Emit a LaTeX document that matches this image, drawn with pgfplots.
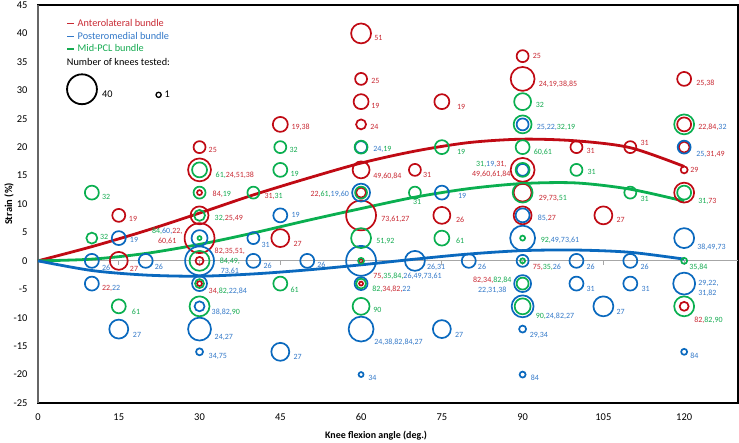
\documentclass[border=0pt]{standalone}
\usepackage{pgfplots}
\pgfplotsset{compat=1.18}
\usepackage{pgfplotstable}
\usepackage{fontspec}
\setmainfont{Carlito}

\definecolor{cR}{RGB}{192,10,20}
\definecolor{cB}{RGB}{10,105,190}
\definecolor{cG}{RGB}{10,175,80}
\definecolor{tR}{RGB}{200,40,50}
\definecolor{tB}{RGB}{50,120,200}
\definecolor{tG}{RGB}{20,170,80}

\newcommand\RR[1]{\textcolor{tR}{#1}}
\newcommand\BB[1]{\textcolor{tB}{#1}}
\newcommand\GG[1]{\textcolor{tG}{#1}}
\tikzset{lab/.style={anchor=west, font=\fontsize{8}{10}\selectfont, inner sep=0pt, align=left}}
\newcommand\lab[5][]{\node[lab,xshift=#3bp,yshift=#4bp,#1] at (axis cs:#2) {#5};}
\newcommand\labL[5][]{\node[lab,anchor=east,xshift=#3bp,yshift=#4bp,#1] at (axis cs:#2) {#5};}

\pgfplotstableread{
x y r
15 8 6.5
15 0 9
30 20 6
30 16 11.5
30 12 2.5
30 8 9
30 4 15
30 0 4
30 -4 2.5
45 24 7.5
45 4 9
60 40 10
60 32 6
60 28 7.5
60 24 5
60 16 8.5
60 12 5
60 8 15
60 0 2
60 -4 2
70 16 6
75 28 7.5
75 8 8.5
90 36 6
90 32 12
90 16 12
90 12 9
90 8 9
100 20 6
105 8 9
110 20 6
120 32 7
120 24 7
120 20 5.5
120 16 3.5
120 12 10
120 -8 4.5
}\tRed

\pgfplotstableread{
x y r
10 0 7
10 -4 7
15 4 7
15 -12 9.5
20 0 7
30 4 8
30 0 14.5
30 -4 7.5
30 -8 5
30 -12 11.5
30 -16 3.5
40 4 6
40 0 7
45 8 7
45 -16 9
50 0 7
60 20 6
60 12 9
60 0 15
60 -4 6.5
60 -12 12.5
60 -20 2.5
70 0 10
75 12 7
75 -12 9
80 0 7
90 24 6
90 16 6
90 8 7
90 4 12.5
90 0 6
90 -4 8.5
90 -8 11
90 -12 3.5
90 -20 3
100 0 7
100 -4 7
105 -8 10
110 0 7
110 -4 7
120 20 6.5
120 4 10
120 -4 11
120 -16 3
}\tBlue

\pgfplotstableread{
x y r
10 12 7
10 4 5.5
15 -8 7
30 16 7.5
30 12 6
30 8 5.5
30 4 2
30 0 10
30 -4 4.5
30 -8 10
40 12 6
45 20 6
45 16 7
45 -4 7
60 20 6.5
60 12 6
60 4 10
60 0 3
60 -4 5
60 -8 8.5
70 12 6
75 20 7
75 4 7.5
90 28 8.5
90 24 9
90 20 7
90 16 7
90 12 10
90 4 2.5
90 0 2.5
90 -4 6
90 -8 8
100 16 6
110 12 6
120 24 10
120 12 7
120 0 3
120 -8 10
}\tGreen

\pgfplotsset{bub/.style={scatter, only marks, mark=o, line width=1.7bp,
  scatter/use mapped color={draw=#1,fill=none},
  visualization depends on={\thisrow{r}\as\rad},
  scatter/@pre marker code/.append style={/tikz/mark size=\rad}}}

\begin{document}
\begin{tikzpicture}
\begin{axis}[
  scale only axis, width=700bp, height=398bp,
  xmin=0, xmax=130, ymin=-25, ymax=45,
  xtick={0,15,...,120}, ytick={-25,-20,...,45},
  xticklabels={0,15,30,45,60,75,90,105,120},
  yticklabels={-25,-20,-15,-10,-5,0,5,10,15,20,25,30,35,40,45},
  tick style={draw=none},
  ticklabel style={font=\fontsize{10.5}{12}\selectfont},
  xticklabel style={yshift=-7bp},
  yticklabel style={xshift=-7bp},
  axis line style={black, line width=1.2bp},
  clip=false,
  xlabel={\textbf{Knee flexion angle (deg.)}},
  ylabel={\textbf{Strain (\%)}},
  every axis x label/.style={at={(axis description cs:0.483,-0.083)}, anchor=center, font=\fontsize{10}{12}\selectfont},
  every axis y label/.style={at={(axis description cs:-0.0414,0.5)}, rotate=90, anchor=center, font=\fontsize{10.5}{12}\selectfont},
]
\coordinate (SW) at (rel axis cs:0,0);
\coordinate (NE) at (rel axis cs:1,1);
\draw[gray!70, line width=0.8bp] (axis cs:0,0) -- (axis cs:130,0);
\pgfplotsinvokeforeach{15,30,...,120}{\draw[gray!70, line width=0.8bp] (axis cs:#1,0) -- ([yshift=-4bp]axis cs:#1,0);}
\draw[gray!80!black, line width=1.4bp] (rel axis cs:0,0) -- (rel axis cs:0,1);

\addplot[bub=cR] table[x=x,y=y] {\tRed};
\addplot[bub=cB] table[x=x,y=y] {\tBlue};
\addplot[bub=cG] table[x=x,y=y] {\tGreen};

\addplot[smooth, line width=2.8bp, cR] coordinates {(0,0) (10,2.5) (20,5.3) (30,8.4) (40,11.6) (50,14.5) (60,17.2) (70,19.3) (80,20.8) (90,21.4) (100,21.1) (110,19.9) (120,16.6)};
\addplot[smooth, line width=2.8bp, cG] coordinates {(0,0) (10,0.3) (20,1.3) (30,2.9) (40,4.9) (50,7.1) (60,9.2) (70,11.2) (80,12.7) (90,13.6) (100,13.7) (110,12.6) (120,10.5)};
\addplot[smooth, line width=2.8bp, cB] coordinates {(0,0) (10,-1.7) (20,-2.5) (30,-2.7) (40,-2.3) (50,-1.6) (60,-0.7) (70,0.3) (80,1.2) (90,1.8) (100,1.9) (110,1.5) (120,0.3)};

% legend
\node[anchor=west, inner sep=0pt, font=\fontsize{10.3}{12}\selectfont, text=tR] at (axis cs:5.39,41.84) {\rule[0.22em]{7bp}{1.2bp}\hspace{3.5bp}Anterolateral bundle};
\node[anchor=west, inner sep=0pt, font=\fontsize{10.3}{12}\selectfont, text=tB] at (axis cs:5.39,39.6) {\rule[0.22em]{7bp}{1.2bp}\hspace{3.5bp}Posteromedial bundle};
\node[anchor=west, inner sep=0pt, font=\fontsize{10.3}{12}\selectfont, text=tG] at (axis cs:5.39,37.39) {\rule[0.22em]{7bp}{1.2bp}\hspace{3.5bp}Mid-PCL bundle};
\node[anchor=west, inner sep=0pt, font=\fontsize{10.3}{12}\selectfont] at (axis cs:5.33,35.03) {Number of knees tested:};
\addplot[only marks, mark=o, mark size=15, line width=1.8bp, black] coordinates {(8.17,30.18)};
\addplot[only marks, mark=o, mark size=2.6, line width=1.3bp, black] coordinates {(22.4,29.2)};
\node[anchor=west, inner sep=0pt, font=\fontsize{10.3}{12}\selectfont] at (axis cs:11.88,29.3) {40};
\node[anchor=west, inner sep=0pt, font=\fontsize{10.3}{12}\selectfont] at (axis cs:23.5,29.3) {1};

% data labels
\lab{10,12}{10}{-4}{\GG{32}}
\lab{15,8}{10}{-4}{\RR{19}}
\lab{10,4}{8}{1}{\GG{32}}
\lab{15,4}{11}{-2}{\BB{19}}
\lab{10,0}{10}{-7}{\BB{26}}
\lab{15,0}{11}{-8}{\RR{27}}
\lab{20,0}{9}{-6}{\BB{26}}
\lab{10,-4}{10}{-5}{\RR{22,}\BB{22}}
\lab{15,-8}{13}{-6}{\GG{61}}
\lab{15,-12}{14}{-6}{\BB{27}}
\lab{30,20}{9}{-3}{\RR{25}}
\lab{30,16}{16}{-5}{\GG{61,}\RR{24,51,38}}
\lab{30,12}{13}{-1.5}{\RR{84,}\GG{19}}
\lab{30,8}{15}{-3}{\GG{32,}\RR{25,49}}
\labL[align=center]{30,4}{-17}{2}{\GG{84,}\BB{60,}\RR{22,}\\\RR{60,61}}
\lab[align=center]{30,0}{15}{0}{\RR{82,35,51,}\\\GG{84,49,}\\\BB{73,61}}
\lab{30,-4}{9}{-8}{\RR{34,}\GG{82,}\BB{22,84}}
\lab{30,-8}{12}{-6}{\BB{38,82,}\GG{90}}
\lab{30,-12}{15}{-8}{\BB{24,27}}
\lab{30,-16}{9}{-5}{\BB{34,75}}
\lab{40,12}{11}{-4}{\RR{31,}\GG{31}}
\lab{40,4}{8}{-7}{\BB{31}}
\lab{40,0}{10}{-5}{\BB{26}}
\lab{45,24}{11}{-2.5}{\RR{19,38}}
\lab{45,20}{9}{-3}{\GG{32}}
\lab{45,16}{10}{-4}{\GG{19}}
\lab{45,8}{11}{0}{\BB{19}}
\lab{45,4}{13}{-6}{\RR{27}}
\lab{50,0}{10}{-4}{\BB{26}}
\lab{45,-4}{10}{-6}{\GG{61}}
\lab{45,-16}{13}{-5}{\BB{27}}
\lab{60,40}{13}{-5}{\RR{51}}
\lab{60,32}{10}{-2}{\RR{25}}
\lab{60,28}{10}{-4}{\RR{19}}
\lab{60,24}{9}{-2.5}{\RR{24}}
\lab{60,20}{12}{-2}{\BB{24,}\GG{19}}
\lab{60,16}{12}{-6}{\RR{49,60,84}}
\labL{60,12}{-12}{-2}{\RR{22,}\GG{61,}\BB{19,60}}
\lab{60,8}{20}{-4}{\RR{73,61,27}}
\lab{60,4}{15}{-3}{\GG{51,92}}
\lab{60,0}{12}{-15}{\RR{75,}\GG{35,84,}\BB{26,49,73,61}}
\lab{60,-4}{11}{-6}{\GG{82,}\RR{34,82,}\BB{22}}
\lab{60,-8}{12}{-4}{\GG{90}}
\lab{60,-12}{13}{-13}{\BB{24,38,82,84,27}}
\lab{60,-20}{7}{-3}{\BB{34}}
\lab{70,16}{8}{-5}{\RR{31}}
\lab{70,12}{-2}{-9}{\GG{31}}
\lab{75,28}{15}{-5}{\RR{19}}
\lab{75,20}{15}{-5}{\GG{19}}
\lab{75,12}{16}{-3}{\BB{19}}
\lab{75,8}{14}{-4}{\RR{26}}
\lab{75,4}{14}{-3}{\GG{61}}
\lab{70,0}{12}{-6}{\BB{26,31}}
\lab{80,0}{9}{-6}{\BB{26}}
\lab{75,-12}{13}{-6}{\BB{27}}
\lab{90,36}{10}{0}{\RR{25}}
\lab{90,32}{16}{-5}{\RR{24,19,38,85}}
\lab{90,28}{13}{-3}{\GG{32}}
\lab{90,24}{14}{-3.5}{\BB{25,22,}\GG{32,19}}
\lab{90,20}{11}{-5}{\GG{60,61}}
\labL[align=center]{90,16}{-12}{0}{\GG{31,}\BB{19,}\RR{31,}\\\RR{49,60,61,84}}
\lab{90,12}{16}{-6}{\RR{29,73,}\GG{51}}
\lab{90,8}{15}{-3}{\BB{85,}\RR{27}}
\lab{90,4}{18}{-2}{\GG{92,}\BB{49,73,61}}
\lab{90,0}{10}{-6}{\RR{75,}\GG{35,}\BB{26}}
\labL[align=center]{90,-4}{-11}{-2}{\RR{82,34,}\GG{82,84}\\\BB{22,31,38}}
\lab{90,-8}{13}{-10}{\GG{90,}\BB{24,82,27}}
\lab{90,-12}{7}{-6}{\BB{29,34}}
\lab{90,-20}{8}{-3}{\BB{84}}
\lab{100,20}{10}{-4}{\RR{31}}
\lab{100,16}{11}{-2}{\GG{31}}
\lab{100,0}{10}{-6}{\BB{26}}
\lab{100,-4}{10}{-5}{\BB{31}}
\lab{105,8}{13}{-5}{\RR{27}}
\lab{105,-8}{13}{-6}{\BB{27}}
\lab{110,20}{10}{4}{\RR{31}}
\lab{110,12}{10}{-6}{\GG{31}}
\lab{110,0}{10}{-6}{\BB{26}}
\lab{110,-4}{11}{-5}{\BB{31}}
\lab{120,32}{12}{-4}{\RR{25,38}}
\lab{120,24}{14}{-3}{\RR{22,84,}\BB{32}}
\lab{120,20}{12}{-7}{\BB{25,}\RR{31,49}}
\lab{120,16}{6}{0}{\RR{29}}
\lab{120,12}{14}{-9}{\GG{31,}\RR{73}}
\lab{120,4}{13}{-9}{\BB{38,49,73}}
\lab{120,0}{5}{-6}{\GG{35,84}}
\lab{120,-4}{14}{-5}{\BB{29,22,}\\\BB{31,82}}
\lab{120,-8}{10}{-14}{\RR{82,}\GG{82,90}}
\lab{120,-16}{6}{-4}{\BB{84}}
\end{axis}
\pgfresetboundingbox
\path[use as bounding box] ([shift={(-38bp,-40bp)}]SW) rectangle ([shift={(1bp,5bp)}]NE);
\end{tikzpicture}
\end{document}
